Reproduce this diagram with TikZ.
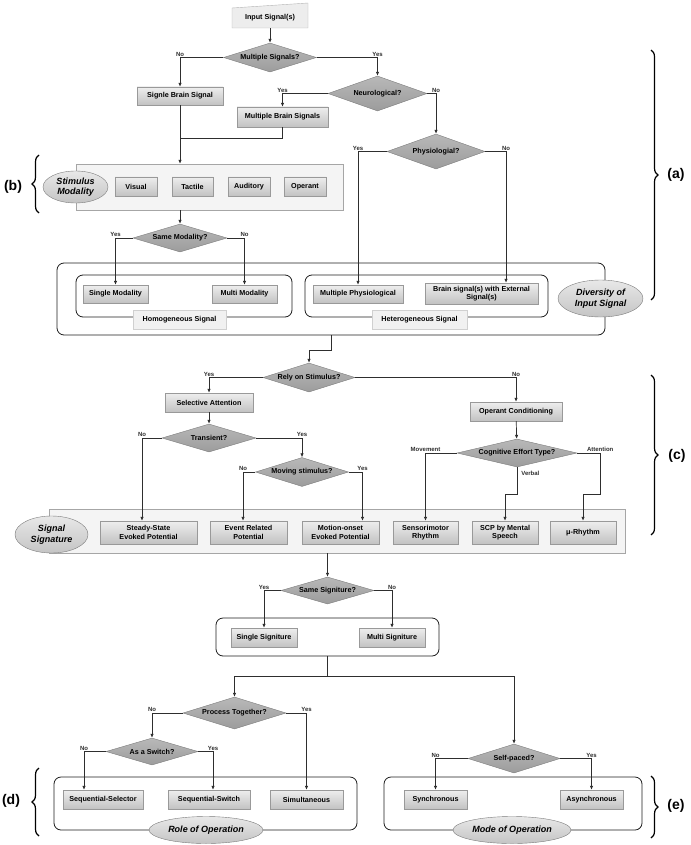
\documentclass[tikz,border=0pt]{standalone}
\usepackage{fontspec}
\setmainfont{Liberation Sans}
\usepackage{tikz}
\usetikzlibrary{positioning, calc, arrows.meta, shapes.geometric, shadows, decorations.pathreplacing}
\definecolor{flowLine}{HTML}{2E2E2E}
\definecolor{boxTop}{HTML}{EEEEEE}
\definecolor{boxBot}{HTML}{C2C2C2}
\definecolor{boxEdge}{HTML}{999999}
\definecolor{decTop}{HTML}{B8B8B8}
\definecolor{decBot}{HTML}{9C9C9C}
\definecolor{decEdge}{HTML}{7C7C7C}
\definecolor{panelBg}{HTML}{F4F4F4}
\definecolor{panelEdge}{HTML}{A6A6A6}
\definecolor{tagBg}{HTML}{F1F1F1}
\definecolor{tagEdge}{HTML}{D0D0D0}
\definecolor{ovTop}{HTML}{E8E8E8}
\definecolor{ovBot}{HTML}{C4C4C4}
\definecolor{grpEdge}{HTML}{1E1E1E}
\definecolor{inBg}{HTML}{EDEDED}
\definecolor{inEdge}{HTML}{B4B4B4}

\begin{document}
\begin{tikzpicture}[
    x=1pt, y=-1pt,
    txt/.style={font=\fontsize{7.2}{8.6}\selectfont\bfseries},
    box/.style={rectangle, txt, draw=boxEdge, top color=boxTop, bottom color=boxBot, minimum height=19pt, inner sep=1pt, align=center, drop shadow={opacity=0.2, shadow xshift=0.8pt, shadow yshift=-0.8pt}},
    dec/.style={diamond, txt, aspect=3.8, inner sep=0pt, draw=decEdge, top color=decTop, bottom color=decBot, minimum width=93pt, minimum height=29pt},
    grp/.style={rectangle, rounded corners=7pt, draw=grpEdge, line width=0.8pt, fill=white, inner sep=0pt},
    pnl/.style={rectangle, draw=panelEdge, fill=panelBg, inner sep=0pt, drop shadow={opacity=0.2, shadow xshift=1pt, shadow yshift=-1pt}},
    tag/.style={rectangle, txt, draw=tagEdge, fill=tagBg, minimum height=19pt, inner sep=1pt},
    ovl/.style={ellipse, draw=decEdge, top color=ovTop, bottom color=ovBot, inner sep=0pt, align=center, font=\fontsize{9}{10.5}\selectfont\bfseries\itshape},
    lbl/.style={font=\fontsize{6}{7}\selectfont\bfseries, inner sep=1pt},
    arr/.style={-{Latex[length=4pt, width=3.4pt]}, line width=0.7pt, flowLine},
    lnk/.style={line width=0.7pt, flowLine},
    brc/.style={decorate, decoration={brace, amplitude=7pt}, line width=1.2pt},
    partlbl/.style={font=\fontsize{14}{16}\selectfont\bfseries},
]
\useasboundingbox (0,0) rectangle (690,845);

\node[grp, minimum width=548pt, minimum height=72pt] (divbox) at (331,299) {};
\node[grp, minimum width=216pt, minimum height=42pt] (hombox) at (184,296) {};
\node[grp, minimum width=243pt, minimum height=42pt] (hetbox) at (426.5,296) {};
\node[grp, minimum width=223pt, minimum height=38pt] (sgbox) at (327.5,637) {};
\node[grp, minimum width=303pt, minimum height=53pt] (rolebox) at (205.5,803.5) {};
\node[grp, minimum width=258pt, minimum height=53pt] (modebox) at (513,803.5) {};
\node[pnl, minimum width=267pt, minimum height=46pt] (stim) at (209.5,187) {};
\node[pnl, minimum width=576pt, minimum height=44pt] (sigp) at (337,531) {};

\coordinate (inc) at (270,18);
\filldraw[draw=inEdge, fill=inBg] ([shift={(-38,10)}]inc) -- ([shift={(38,10)}]inc) -- ([shift={(38,-15)}]inc) -- ([shift={(-38,-10)}]inc) -- cycle;
\node[txt, minimum width=76pt, minimum height=20pt, inner sep=0pt] (inp) at (inc) {Input Signal(s)};

\node[dec] (ms) at (270,57.5) {Multiple Signals?};
\node[box, minimum width=86pt, minimum height=18pt] (sbs) at (180,96) {Signle Brain Signal};
\node[dec, minimum width=99pt, minimum height=35pt] (neu) at (377.5,93.5) {Neurological?};
\node[box, minimum width=91pt, minimum height=20pt] (mbs) at (282.5,117) {Multiple Brain Signals};
\node[dec, minimum width=98pt, minimum height=35pt] (phy) at (436,151.5) {Physiologial?};
\coordinate (jn) at (180,138);

\node[ovl, minimum width=65pt, minimum height=32pt] (stimov) at (75.5,187) {Stimulus\\Modality};
\node[box, minimum width=42pt] (vis) at (136,186.5) {Visual};
\node[box, minimum width=41pt] (tac) at (192.5,186.5) {Tactile};
\node[box, minimum width=42pt] (aud) at (249,186.5) {Auditory};
\node[box, minimum width=42pt] (ope) at (305,186.5) {Operant};

\node[dec, minimum width=94pt, minimum height=28pt] (smod) at (180,238) {Same Modality?};
\node[box, minimum width=65pt, minimum height=18pt] (smo) at (115.5,294) {Single Modality};
\node[box, minimum width=65pt, minimum height=18pt] (mmo) at (244.5,294) {Multi Modality};
\node[box, minimum width=90pt, minimum height=18pt] (mph) at (358,294) {Multiple Physiological};
\node[box, minimum width=113pt, minimum height=21pt] (bwe) at (481.5,293.5) {Brain signal(s) with External\\Signal(s)};
\node[tag, minimum width=93pt] (homl) at (179.5,319.5) {Homogeneous Signal};
\node[tag, minimum width=95pt] (hetl) at (419.5,319.5) {Heterogeneous Signal};
\node[ovl, minimum width=85pt, minimum height=37pt] (divov) at (600.5,298.5) {Diversity of\\Input Signal};

\node[dec, minimum width=92pt] (rely) at (309,377.5) {Rely on Stimulus?};
\node[box, minimum width=88pt] (sat) at (209,402.5) {Selective Attention};
\node[box, minimum width=92pt] (opc) at (516,411.5) {Operant Conditioning};
\node[dec, minimum width=94pt, minimum height=28pt] (trans) at (209,438) {Transient?};
\node[dec] (mov) at (302,472) {Moving stimulus?};
\node[dec, minimum width=120pt, minimum height=28pt] (cog) at (517,453) {Cognitive Effort Type?};

\node[ovl, minimum width=73pt, minimum height=37pt] (sigov) at (51.5,534.5) {Signal\\Signature};
\node[box, minimum width=97pt, minimum height=23pt] (ssep) at (148.5,532.5) {Steady-State\\Evoked Potential};
\node[box, minimum width=77pt, minimum height=23pt] (erp) at (248.5,532.5) {Event Related\\Potential};
\node[box, minimum width=77pt, minimum height=23pt] (moep) at (340.5,532.5) {Motion-onset\\Evoked Potential};
\node[box, minimum width=65pt, minimum height=23pt] (smr) at (425.5,532.5) {Sensorimotor\\Rhythm};
\node[box, minimum width=66pt, minimum height=23pt] (scp) at (505,532.5) {SCP by Mental\\Speech};
\node[box, minimum width=66pt, minimum height=23pt] (mu) at (583,532.5) {μ-Rhythm};

\node[dec, minimum height=27pt] (ssig) at (327.5,590.5) {Same Signiture?};
\node[box, minimum width=66pt] (ssg) at (264,637.5) {Single Signiture};
\node[box, minimum width=66pt] (msg) at (392,637.5) {Multi Signiture};

\node[dec, minimum width=103pt, minimum height=32pt] (proc) at (234.5,713) {Process Together?};
\node[dec, minimum width=92pt, minimum height=27pt] (sw) at (152,751.5) {As a Switch?};
\node[dec, minimum width=92pt] (self) at (514,758.5) {Self-paced?};
\node[box, minimum width=80pt] (ssel) at (103,799.5) {Sequential-Selector};
\node[box, minimum width=82pt] (sswi) at (209,799.5) {Sequential-Switch};
\node[box, minimum width=73pt] (sim) at (306.5,799.5) {Simultaneous};
\node[box, minimum width=63pt] (syn) at (435.5,799.5) {Synchronous};
\node[box, minimum width=63pt] (asy) at (591.5,799.5) {Asynchronous};
\node[ovl, minimum width=114pt, minimum height=27pt] (roleov) at (206,830) {Role of Operation};
\node[ovl, minimum width=118pt, minimum height=27pt] (modeov) at (512,830) {Mode of Operation};

\draw[arr] (inp) -- (ms);
\draw[arr] (ms.west) -| node[midway, above, lbl] {No} (sbs.north);
\draw[arr] (ms.east) -| node[midway, above, lbl] {Yes} (neu.north);
\draw[arr] (neu.west) -| node[midway, above, lbl] {Yes} (mbs.north);
\draw[arr] (neu.east) -| node[midway, above, lbl] {No} (phy.north);
\draw[arr] (phy.west) -| node[midway, above, lbl] {Yes} (mph.north);
\draw[arr] (phy.east) -| node[midway, above, lbl] {No} ([xshift=24.5pt]bwe.north);
\draw[arr] (sbs.south) -- (sbs.south |- stim.north);
\draw[lnk] (mbs.south) |- (jn);
\draw[arr] (stim.south -| smod.north) -- (smod.north);
\draw[arr] (smod.west) -| node[midway, above, lbl] {Yes} (smo.north);
\draw[arr] (smod.east) -| node[midway, above, lbl] {No} (mmo.north);

\draw[arr] (divbox.south) -- ++(0,15) -| (rely.north);
\draw[arr] (rely.west) -| node[midway, above, lbl] {Yes} (sat.north);
\draw[arr] (rely.east) -| node[midway, above, lbl] {No} (opc.north);
\draw[arr] (sat) -- (trans);
\draw[arr] (trans.west) -| node[midway, above, lbl] {No} ([xshift=-6.5pt]ssep.north);
\draw[arr] (trans.east) -| node[midway, above, lbl] {Yes} (mov.north);
\draw[arr] (mov.west) -| node[midway, above, lbl] {No} ([xshift=-5.5pt]erp.north);
\draw[arr] (mov.east) -| node[midway, above, lbl] {Yes} ([xshift=22pt]moep.north);
\draw[arr] (opc) -- (cog);
\draw[arr] (cog.west) -| node[midway, above, lbl] {Movement} (smr.north);
\draw[arr] (cog.south) -- node[pos=0.22, right=3pt, lbl] {Verbal} ++(0,27) -| (scp.north);
\draw[arr] (cog.east) -- ++(23,0) node[above, lbl] {Attention} -- ++(0,41) -| (mu.north);

\draw[arr] (sigp.south -| ssig.north) -- (ssig.north);
\draw[arr] (ssig.west) -| node[midway, above, lbl] {Yes} (ssg.north);
\draw[arr] (ssig.east) -| node[midway, above, lbl] {No} (msg.north);
\draw[arr] (sgbox.south) -- ++(0,20) -| (proc.north);
\draw[arr] (sgbox.south) -- ++(0,20) -| (self.north);
\draw[arr] (proc.west) -| node[midway, above, lbl] {No} (sw.north);
\draw[arr] (proc.east) -| node[midway, above, lbl] {Yes} (sim.north);
\draw[arr] (sw.west) -| node[midway, above, lbl] {No} ([xshift=-19pt]ssel.north);
\draw[arr] (sw.east) -| node[midway, above, lbl] {Yes} ([xshift=4pt]sswi.north);
\draw[arr] (self.west) -| node[midway, above, lbl] {No} (syn.north);
\draw[arr] (self.east) -| node[midway, above, lbl] {Yes} (asy.north);

\draw[brc] (651,50) -- (651,300);
\draw[brc] (39,213) -- (39,155);
\draw[brc] (651,375) -- (651,535);
\draw[brc] (39,836) -- (39,768);
\draw[brc] (651,776) -- (651,838);
\node[partlbl] (pa) at (676,175) {(a)};
\node[partlbl] (pb) at (13,187) {(b)};
\node[partlbl] (pc) at (677,456) {(c)};
\node[partlbl] (pd) at (11,801) {(d)};
\node[partlbl] (pe) at (676,806) {(e)};
\end{tikzpicture}
\end{document}
